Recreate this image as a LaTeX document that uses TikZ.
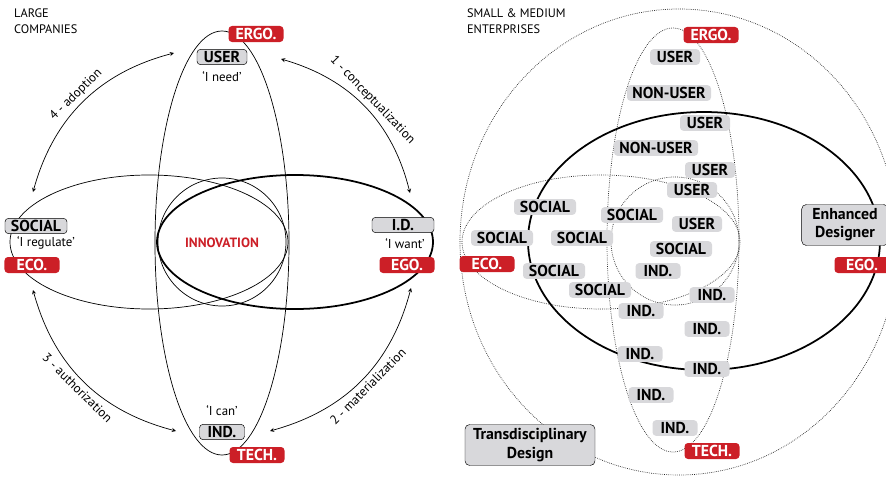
\documentclass[tikz,border=0pt]{standalone}
\usepackage{fontspec}
\setmainfont{PT Sans}
\definecolor{ecored}{RGB}{204,31,39}
\definecolor{boxgray}{RGB}{216,216,219}

\begin{document}
\begin{tikzpicture}[>=stealth, x=0.03cm, y=-0.03cm,
	ringthin/.style={line width=0.6pt},
	ringthick/.style={line width=1.5pt},
	dotline/.style={line width=0.6pt,draw=black!85,dash pattern=on 0.6pt off 1pt},
	redtag/.style={fill=ecored,text=white,rounded corners=3pt,inner sep=0pt,minimum height=0.48cm,minimum width=1.65cm,font=\fontsize{13.5}{13.5}\selectfont\bfseries},
	graytag/.style={draw,fill=boxgray,rounded corners=3pt,inner sep=0pt,minimum height=0.46cm,font=\fontsize{13.5}{13.5}\selectfont\bfseries},
	softtag/.style={fill=boxgray,rounded corners=3pt,inner sep=0pt,minimum height=0.47cm,font=\fontsize{13.5}{13.5}\selectfont\bfseries},
	bigtag/.style={draw,fill=boxgray,rounded corners=4pt,align=center,inner sep=0pt,minimum height=1.23cm,font=\fontsize{13.5}{15.5}\selectfont\bfseries},
	saying/.style={font=\fontsize{11}{11}\selectfont},
	steplabel/.style={font=\fontsize{11}{11}\selectfont,sloped}]

	\clip (0,0) rectangle (886,477);

	% nagy vallalatok - ellipszisek
	\draw[ringthin] (222,243) ellipse [x radius=67, y radius=212];
	\draw[ringthin] (149,242) ellipse [x radius=139, y radius=67];
	\draw[ringthin] (222,242) circle [radius=64];
	\draw[ringthick] (295,242) ellipse [x radius=138, y radius=67];

	% feliratok
	\node[align=left,anchor=north west,font=\fontsize{10.5}{13.5}\selectfont] (lefttitle) at (10,5) {LARGE\\COMPANIES};
	\node[redtag] (ergoL) at (256,34) {ERGO.};
	\node[graytag,minimum width=1.5cm] (userL) at (222,57) {USER};
	\node[saying] (needL) at (222,77) {‘I need’};
	\node[graytag,minimum width=1.86cm] (socialL) at (36,226) {SOCIAL};
	\node[saying] (regulateL) at (46,243) {‘I regulate’};
	\node[redtag] (ecoL) at (32,265) {ECO.};
	\node[font=\fontsize{11.5}{11.5}\selectfont\bfseries,text=ecored] (innov) at (222,243) {INNOVATION};
	\node[graytag,minimum width=1.86cm] (idL) at (403,225) {I.D.};
	\node[saying] (wantL) at (405,244) {‘I want’};
	\node[redtag] (egoL) at (407,265) {EGO.};
	\node[saying] (canL) at (222,411) {‘I can’};
	\node[graytag,minimum width=1.35cm] (indL) at (222,432) {IND.};
	\node[redtag] (techL) at (257,455) {TECH.};

	% korbe futo nyilak
	\coordinate (ad1) at (174,53);
	\coordinate (ad2) at (33,192);
	\coordinate (co1) at (281,59);
	\coordinate (co2) at (410,193);
	\coordinate (au1) at (33,290);
	\coordinate (au2) at (176,431);
	\coordinate (ma1) at (411,288);
	\coordinate (ma2) at (270,431);
	\draw [<->,ringthin] (ad1) to[bend right=30] node[steplabel,above]{4 - adoption} (ad2);
	\draw [<->,ringthin] (co1) to[bend left=30] node[steplabel,above]{1 - conceptualization} (co2);
	\draw [<->,ringthin] (au1) to[bend right=30] node[steplabel,below]{3 - authorization} (au2);
	\draw [<->,ringthin] (ma1) to[bend left=30] node[steplabel,below]{2 - materialization} (ma2);

	% kkv - pontozott ellipszisek
	\draw[dotline] (679,242) ellipse [x radius=219, y radius=233];
	\draw[dotline] (673,240) ellipse [x radius=66, y radius=212];
	\draw[dotline] (601,242) ellipse [x radius=139, y radius=67];
	\draw[dotline] (675,241) circle [radius=64];
	\draw[ringthick] (704,241) ellipse [x radius=176, y radius=129];

	\node[align=left,anchor=north west,font=\fontsize{10.5}{13.5}\selectfont] (righttitle) at (463,5) {SMALL \& MEDIUM\\ENTERPRISES};

	% szerepek
	\node[softtag,minimum width=1.5cm] (user1) at (675,57) {USER};
	\node[softtag,minimum width=2.52cm] (nonuser1) at (669,93) {NON-USER};
	\node[softtag,minimum width=1.5cm] (user2) at (705,123) {USER};
	\node[softtag,minimum width=2.52cm] (nonuser2) at (656,148) {NON-USER};
	\node[softtag,minimum width=1.5cm] (user3) at (710,170) {USER};
	\node[softtag,minimum width=1.5cm] (user4) at (692,190) {USER};
	\node[softtag,minimum width=1.86cm] (social1) at (545,207) {SOCIAL};
	\node[softtag,minimum width=1.86cm] (social2) at (632,215) {SOCIAL};
	\node[softtag,minimum width=1.5cm] (user5) at (697,224) {USER};
	\node[softtag,minimum width=1.86cm] (social3) at (502,238) {SOCIAL};
	\node[softtag,minimum width=1.86cm] (social4) at (582,238) {SOCIAL};
	\node[softtag,minimum width=1.86cm] (social5) at (681,249) {SOCIAL};
	\node[softtag,minimum width=1.86cm] (social6) at (554,271) {SOCIAL};
	\node[softtag,minimum width=1.35cm] (ind1) at (658,271) {IND.};
	\node[softtag,minimum width=1.86cm] (social7) at (600,290) {SOCIAL};
	\node[softtag,minimum width=1.35cm] (ind2) at (712,295) {IND.};
	\node[softtag,minimum width=1.35cm] (ind3) at (641,311) {IND.};
	\node[softtag,minimum width=1.35cm] (ind4) at (707,329) {IND.};
	\node[softtag,minimum width=1.35cm] (ind5) at (640,354) {IND.};
	\node[softtag,minimum width=1.35cm] (ind6) at (707,369) {IND.};
	\node[softtag,minimum width=1.35cm] (ind7) at (651,395) {IND.};
	\node[softtag,minimum width=1.35cm] (ind8) at (675,428) {IND.};

	\node[redtag] (ergoR) at (711,35) {ERGO.};
	\node[redtag] (ecoR) at (487,264) {ECO.};
	\node[redtag] (egoR) at (862,265) {EGO.};
	\node[redtag] (techR) at (712,451) {TECH.};

	\node[bigtag,minimum width=3.9cm] (transd) at (530,445) {Transdisciplinary\\Design};
	\node[bigtag,minimum width=2.6cm] (enhanced) at (845,225) {Enhanced\\Designer};

\end{tikzpicture}
\end{document}
